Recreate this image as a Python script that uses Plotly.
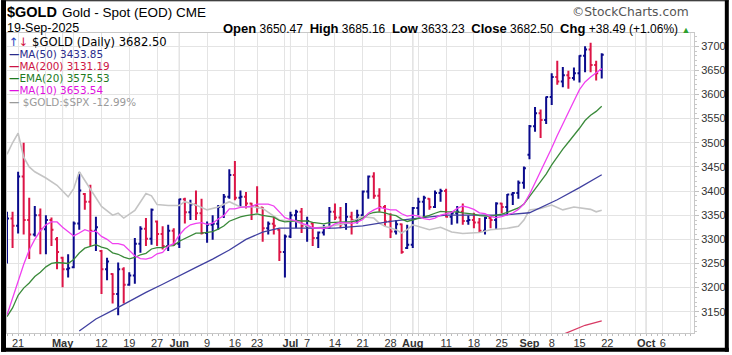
import plotly.graph_objects as go
import pandas as pd

# ---------------- calendar (trading days) ----------------
HOLIDAYS = ["2025-04-18", "2025-05-26", "2025-06-19", "2025-07-04", "2025-09-01"]
calendar = [d.strftime("%Y-%m-%d") for d in pd.bdate_range("2025-04-16", "2025-10-17")]
calendar = [d for d in calendar if d not in HOLIDAYS]

N_BARS = 108                      # 2025-04-16 .. 2025-09-19
bar_dates = calendar[:N_BARS]

# ---------------- price bars ----------------
opens = [3252, 3343, 3328, 3430, 3340, 3310, 3350, 3321, 3340, 3300,
         3262, 3238, 3242, 3333, 3394, 3378, 3318, 3276, 3238, 3228,
         3187, 3238, 3206, 3225, 3291, 3322, 3301, 3337, 3311, 3286,
         3318, 3291, 3383, 3356, 3372, 3354, 3313, 3330, 3332, 3367,
         3388, 3433, 3386, 3388, 3374, 3369, 3366, 3323, 3332, 3320,
         3274, 3306, 3350, 3357, 3328, 3333, 3303, 3314, 3325, 3357,
         3345, 3331, 3347, 3340, 3350, 3399, 3430, 3390, 3367, 3337,
         3316, 3331, 3282, 3289, 3365, 3378, 3384, 3367, 3396, 3400,
         3347, 3354, 3357, 3338, 3340, 3335, 3318, 3344, 3340, 3374,
         3367, 3393, 3396, 3417, 3475, 3534, 3561, 3547, 3595, 3636,
         3627, 3640, 3634, 3644, 3680, 3693, 3661, 3650.47]
highs = [3357, 3357, 3440, 3500, 3386, 3369, 3364, 3350, 3345, 3305,
         3264, 3269, 3337, 3439, 3396, 3413, 3347, 3278, 3262, 3230,
         3252, 3242, 3232, 3303, 3327, 3344, 3364, 3339, 3327, 3330,
         3323, 3384, 3386, 3382, 3401, 3384, 3337, 3350, 3371, 3394,
         3445, 3462, 3401, 3398, 3376, 3410, 3367, 3337, 3347, 3322,
         3310, 3357, 3361, 3365, 3347, 3335, 3316, 3330, 3367, 3374,
         3367, 3375, 3357, 3361, 3401, 3432, 3439, 3406, 3371, 3354,
         3340, 3333, 3330, 3367, 3386, 3390, 3385, 3401, 3405, 3405,
         3358, 3369, 3374, 3350, 3355, 3344, 3347, 3348, 3377, 3376,
         3394, 3398, 3422, 3451, 3537, 3574, 3569, 3596, 3644, 3670,
         3657, 3649, 3656, 3681, 3700, 3707, 3670, 3685.16]
lows = [3250, 3282, 3312, 3310, 3259, 3306, 3269, 3269, 3286, 3238,
        3201, 3221, 3240, 3320, 3361, 3286, 3276, 3187, 3215, 3167,
        3143, 3167, 3204, 3208, 3272, 3286, 3289, 3286, 3279, 3276,
        3286, 3282, 3333, 3340, 3340, 3310, 3293, 3299, 3320, 3344,
        3384, 3381, 3367, 3364, 3340, 3355, 3295, 3310, 3310, 3255,
        3221, 3303, 3323, 3313, 3295, 3286, 3282, 3308, 3322, 3340,
        3323, 3320, 3310, 3333, 3348, 3384, 3384, 3357, 3327, 3303,
        3310, 3270, 3280, 3282, 3350, 3347, 3361, 3365, 3378, 3345,
        3330, 3333, 3330, 3330, 3323, 3313, 3310, 3323, 3320, 3354,
        3350, 3371, 3384, 3405, 3466, 3523, 3510, 3539, 3578, 3620,
        3615, 3612, 3629, 3625, 3646, 3646, 3629, 3633.23]
closes = [3343, 3328, 3430, 3340, 3310, 3350, 3321, 3340, 3320, 3274,
          3238, 3240, 3333, 3401, 3378, 3318, 3325, 3238, 3254, 3187,
          3238, 3206, 3225, 3291, 3322, 3301, 3361, 3311, 3286, 3318,
          3291, 3383, 3356, 3372, 3354, 3313, 3330, 3332, 3367, 3388,
          3433, 3386, 3388, 3374, 3369, 3366, 3323, 3332, 3328, 3274,
          3306, 3350, 3357, 3328, 3338, 3303, 3314, 3325, 3357, 3345,
          3331, 3347, 3340, 3350, 3399, 3430, 3390, 3367, 3337, 3316,
          3331, 3274, 3289, 3365, 3378, 3386, 3367, 3396, 3400, 3347,
          3354, 3357, 3338, 3340, 3335, 3318, 3344, 3340, 3374, 3367,
          3393, 3396, 3417, 3447, 3534, 3561, 3547, 3595, 3636, 3627,
          3640, 3634, 3644, 3680, 3693, 3661, 3644.01, 3682.50]

# ---------------- overlays ----------------
ma10 = [3143, 3178, 3212, 3248, 3278, 3300, 3318, 3330, 3336, 3336,
        3325, 3316, 3307, 3313, 3320, 3316, 3317, 3306, 3300, 3291,
        3291, 3288, 3277, 3266, 3260, 3259, 3262, 3270, 3273, 3286,
        3291, 3309, 3322, 3330, 3333, 3334.5, 3331, 3333.5, 3342, 3349,
        3363, 3363, 3366, 3366.5, 3368, 3373, 3373, 3373, 3369, 3357,
        3345, 3341, 3338, 3333, 3330, 3324, 3323, 3322, 3325, 3332,
        3335, 3334.5, 3333, 3335, 3341, 3354, 3361, 3366, 3364, 3361,
        3361, 3353, 3348, 3350, 3348, 3343, 3341, 3344, 3350, 3353,
        3356, 3364, 3369, 3366, 3362, 3355, 3353, 3347, 3345, 3347,
        3351, 3354.5, 3362, 3373, 3393, 3417, 3438, 3463, 3489, 3515,
        3540, 3564, 3586.5, 3610, 3626, 3636, 3645, 3653.54]
ema20 = [3140, 3158, 3184, 3199, 3209.5, 3223, 3232, 3243, 3250, 3252,
         3251, 3250, 3258, 3271.6, 3281.7, 3285, 3289, 3284, 3281, 3272,
         3269, 3263, 3259.4, 3262.4, 3268, 3271, 3280, 3283, 3283, 3286.5,
         3287, 3296, 3302, 3308.5, 3313, 3313, 3314.6, 3316, 3321, 3327.5,
         3337.5, 3342, 3346.5, 3349, 3351, 3352.5, 3349.7, 3348, 3346, 3339,
         3336, 3337, 3339, 3338, 3338, 3335, 3333, 3332, 3334.5, 3335.5,
         3335, 3336, 3336.5, 3338, 3344, 3352, 3355.6, 3356.7, 3355, 3351,
         3349, 3342, 3337, 3340, 3343.5, 3347.5, 3349.4, 3354, 3358, 3357,
         3357, 3357, 3355, 3354, 3352, 3349, 3348.5, 3347.7, 3350, 3352,
         3356, 3360, 3365, 3373, 3388.5, 3405, 3418.5, 3435, 3454, 3471,
         3487, 3501, 3514.5, 3530, 3546, 3557, 3565, 3575.53]
ma50_dates = ["2025-05-06", "2025-05-09", "2025-05-14", "2025-05-19", "2025-05-22",
              "2025-05-28", "2025-06-02", "2025-06-05", "2025-06-10", "2025-06-13",
              "2025-06-18", "2025-06-24", "2025-06-27", "2025-07-02", "2025-07-08",
              "2025-07-14", "2025-07-21", "2025-07-28", "2025-08-04", "2025-08-11",
              "2025-08-18", "2025-08-25", "2025-09-02", "2025-09-09", "2025-09-15",
              "2025-09-19"]
ma50_vals = [3110, 3135, 3153, 3172, 3190, 3207, 3225, 3242, 3259, 3278,
             3300, 3315, 3323, 3323, 3322, 3323, 3328, 3337, 3344, 3350,
             3350, 3350, 3355, 3382, 3407, 3433.85]
ma200_dates = ["2025-09-10", "2025-09-12", "2025-09-16", "2025-09-19"]
ma200_vals = [3103, 3112, 3122, 3131.19]
ratio_dates = ["2025-04-16", "2025-04-17", "2025-04-21", "2025-04-22", "2025-04-23",
               "2025-04-24", "2025-04-28", "2025-04-30", "2025-05-02", "2025-05-05",
               "2025-05-06", "2025-05-07", "2025-05-08", "2025-05-12", "2025-05-14",
               "2025-05-15", "2025-05-16", "2025-05-20", "2025-05-22", "2025-05-23",
               "2025-05-27", "2025-05-29", "2025-06-02", "2025-06-03", "2025-06-05",
               "2025-06-09", "2025-06-11", "2025-06-13", "2025-06-17", "2025-06-20",
               "2025-06-24", "2025-06-27", "2025-07-02", "2025-07-08", "2025-07-11",
               "2025-07-16", "2025-07-21", "2025-07-23", "2025-07-24", "2025-07-25",
               "2025-07-29", "2025-07-30", "2025-07-31", "2025-08-01", "2025-08-06",
               "2025-08-08", "2025-08-12", "2025-08-14", "2025-08-19", "2025-08-21",
               "2025-08-26", "2025-08-28", "2025-08-29", "2025-09-02", "2025-09-04",
               "2025-09-08", "2025-09-10", "2025-09-12", "2025-09-17", "2025-09-18",
               "2025-09-19"]
ratio_vals = [3476, 3500, 3520, 3470, 3450, 3440, 3427, 3412, 3388, 3405,
              3440, 3422, 3405, 3368, 3350, 3354, 3344, 3360, 3395, 3390,
              3372, 3370, 3370, 3378, 3371, 3361, 3367, 3378, 3367, 3368,
              3364, 3340, 3337, 3323, 3327, 3333, 3347, 3344, 3333, 3327,
              3320, 3313, 3320, 3330, 3320, 3325, 3315, 3312, 3314, 3320,
              3323, 3327, 3340, 3361, 3364, 3371, 3361, 3367, 3362, 3357,
              3360]

# ---------------- x-axis labels ----------------
tick_dates = ["2025-04-21", "2025-04-28", "2025-05-01", "2025-05-05", "2025-05-12",
              "2025-05-19", "2025-05-27", "2025-06-02", "2025-06-09", "2025-06-16",
              "2025-06-23", "2025-06-30", "2025-07-01", "2025-07-07", "2025-07-14",
              "2025-07-21", "2025-07-28", "2025-08-01", "2025-08-04", "2025-08-11",
              "2025-08-18", "2025-08-25", "2025-09-02", "2025-09-08", "2025-09-15",
              "2025-09-22", "2025-09-29", "2025-10-01", "2025-10-06", "2025-10-13"]
tick_labels = ["21", "", "<b>May</b>", "", "12", "19", "27", "<b>Jun</b>", "9", "16",
               "23", "", "<b>Jul</b>", "7", "14", "21", "28", "<b>Aug</b>", "", "11",
               "18", "25", "<b>Sep</b>", "8", "15", "22", "", "<b>Oct</b>", "6", ""]
month_starts = ["2025-05-01", "2025-06-02", "2025-07-01", "2025-08-01", "2025-09-02", "2025-10-01"]

UP = "#0a0a8c"
DOWN = "#dc1446"
FONT = "Liberation Sans"
VFONT = "DejaVu Sans"

fig = go.Figure()

# gray relative-strength overlay (behind price)
fig.add_trace(go.Scatter(x=ratio_dates, y=ratio_vals, mode="lines",
                         line=dict(color="#c4c4c4", width=1.6), hoverinfo="skip"))

# price bars, coloured by close vs previous close
up_sel = [i for i in range(N_BARS) if i == 0 or closes[i] >= closes[i - 1]]
dn_sel = [i for i in range(N_BARS) if i not in up_sel]
for sel, col in ((up_sel, UP), (dn_sel, DOWN)):
    fig.add_trace(go.Ohlc(
        x=[bar_dates[i] for i in sel],
        open=[opens[i] for i in sel], high=[highs[i] for i in sel],
        low=[lows[i] for i in sel], close=[closes[i] for i in sel],
        increasing=dict(line=dict(color=col, width=2)),
        decreasing=dict(line=dict(color=col, width=2)),
        tickwidth=0.36, hoverinfo="skip"))

fig.add_trace(go.Scatter(x=ma50_dates, y=ma50_vals, mode="lines",
                         line=dict(color="#4040a0", width=1.3), hoverinfo="skip"))
fig.add_trace(go.Scatter(x=ma200_dates, y=ma200_vals, mode="lines",
                         line=dict(color="#d83a64", width=1.3), hoverinfo="skip"))
fig.add_trace(go.Scatter(x=bar_dates, y=ema20, mode="lines",
                         line=dict(color="#3a8a3a", width=1.3), hoverinfo="skip"))
fig.add_trace(go.Scatter(x=bar_dates, y=ma10, mode="lines",
                         line=dict(color="#f040f0", width=1.3), hoverinfo="skip"))

# invisible trace that carries the daily minor-tick axis
fig.add_trace(go.Scatter(x=[calendar[0]], y=[3400], mode="markers", xaxis="x2",
                         marker=dict(opacity=0), hoverinfo="skip"))

# plot-area geometry (pixels) for placing text
L, R, T, B = 6, 697, 33, 336


def px(x):
    return (x - L) / (R - L)


def py(y):
    return (B - y) / (B - T)


shapes = []
for d in month_starts:
    shapes.append(dict(type="line", xref="x", yref="paper", x0=d, x1=d, y0=0, y1=1,
                       line=dict(color="#b9b9b9", width=1), layer="below"))
# outer black frame
for x0, y0, x1, y1 in ((0, 0, 5, 355), (728, 0, 732, 355), (0, 351, 732, 355), (0, 0, 732, 1)):
    shapes.append(dict(type="rect", xref="paper", yref="paper",
                       x0=px(x0), x1=px(x1), y0=py(y1), y1=py(y0),
                       fillcolor="black", line=dict(width=0), layer="above"))

ann = []


def text(x, y, s, size, color="#000", anchor="left", family=FONT):
    ann.append(dict(xref="paper", yref="paper", x=px(x), y=py(y), text=s,
                    showarrow=False, xanchor=anchor, yanchor="middle",
                    font=dict(family=family, size=size, color=color), borderpad=0))


text(5, 12, "<b>$GOLD</b>", 14.5)
text(60, 12.5, "Gold - Spot (EOD) CME", 13.5)
text(5, 28, "19-Sep-2025", 12.5)
text(693, 12, "©StockCharts.com", 12.3, color="#555", anchor="right", family=VFONT)
B_ = "<span style='font-size:13px'><b>%s</b></span>"
text(694, 28,
     (B_ % "Open") + " 3650.47  " + (B_ % "High") + " 3685.16  " + (B_ % "Low") + " 3633.23  "
     + (B_ % "Close") + " 3682.50  " + (B_ % "Chg") + " +38.49 (+1.06%) "
     + "<span style='color:#2ca02c;font-size:9px'>▲</span>", 12, anchor="right")

text(7, 42, "<span style='color:#1f3fbf'>↑</span><span style='color:#d01040'>↓</span> $GOLD (Daily) 3682.50",
     11.6, family=VFONT)
text(7, 54.5, "<b>—</b>MA(50) 3433.85", 10.4, color="#2b2b8c", family=VFONT)
text(7, 66.5, "<b>—</b>MA(200) 3131.19", 10.4, color="#cc1444", family=VFONT)
text(7, 78.5, "<b>—</b>EMA(20) 3575.53", 10.4, color="#1e7b1e", family=VFONT)
text(7, 90.5, "<b>—</b>MA(10) 3653.54", 10.4, color="#e010e0", family=VFONT)
text(7, 102.5, "<b>—</b> $GOLD:$SPX -12.99%", 10.4, color="#9a9a9a", family=VFONT)

fig.update_layout(
    width=732, height=355,
    margin=dict(l=L, r=732 - R, t=T, b=355 - B),
    paper_bgcolor="white", plot_bgcolor="white",
    showlegend=False,
    shapes=shapes, annotations=ann,
    xaxis=dict(type="category", categoryorder="array", categoryarray=calendar,
               range=[0.0, 123.6], tickmode="array", tickvals=tick_dates, ticktext=tick_labels,
               showgrid=True, gridcolor="#e4e4e4", gridwidth=1,
               ticks="", tickfont=dict(family=FONT, size=11, color="#333"),
               rangeslider=dict(visible=False), showline=True, linecolor="#c8c8c8",
               mirror=True, zeroline=False, fixedrange=True),
    xaxis2=dict(type="category", categoryorder="array", categoryarray=calendar,
                overlaying="x", matches="x", side="bottom", range=[0.0, 123.6],
                tickmode="array", tickvals=calendar, ticktext=[""] * len(calendar),
                ticks="outside", ticklen=2, tickcolor="#bdbdbd", showgrid=False,
                showline=False, zeroline=False, fixedrange=True),
    yaxis=dict(side="right", range=[3106, 3727.3], tickmode="array",
               tickvals=list(range(3150, 3701, 50)),
               showgrid=True, gridcolor="#e4e4e4", gridwidth=1,
               ticks="outside", ticklen=4, tickcolor="#c0c0c0",
               minor=dict(dtick=10, ticks="outside", ticklen=2, tickcolor="#c8c8c8", showgrid=False),
               tickfont=dict(family=FONT, size=11, color="#333"),
               showline=True, linecolor="#c8c8c8", mirror=True, zeroline=False, fixedrange=True),
)

fig.write_html("out.html")
